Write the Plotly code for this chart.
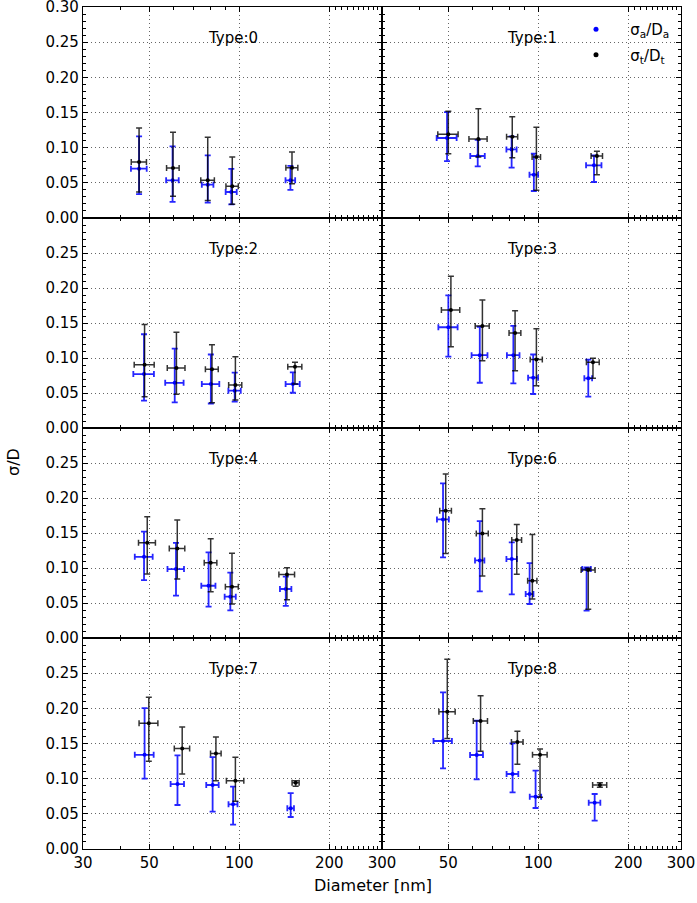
import plotly.graph_objects as go

W, H = 697, 903

TYPES = ["Type:0", "Type:1", "Type:2", "Type:3", "Type:4", "Type:6", "Type:7", "Type:8"]

# sigma_t / D_t (black)
BLACK_X = [
    [46.2, 60.0, 78.4, 94.7, 150.0],
    [50.0, 63.0, 81.8, 98.5, 157.0],
    [48.2, 61.6, 81.0, 97.0, 153.5],
    [51.0, 65.0, 83.6, 98.5, 152.3],
    [49.2, 62.0, 80.2, 94.5, 144.3],
    [49.0, 65.0, 84.7, 95.5, 146.9],
    [49.8, 64.4, 83.5, 97.0, 154.3],
    [49.6, 64.1, 85.1, 101.3, 160.6],
]
BLACK_XERR = [
    [2.7, 2.9, 4.1, 4.5, 6.9],
    [3.9, 4.4, 3.5, 3.2, 6.9],
    [3.7, 4.2, 4.0, 4.9, 8.3],
    [3.6, 3.5, 3.8, 4.6, 7.5],
    [3.2, 3.7, 3.9, 4.7, 8.7],
    [2.2, 3.0, 3.2, 3.4, 7.9],
    [3.6, 3.8, 3.4, 6.5, 4.2],
    [3.1, 3.5, 3.8, 5.7, 8.7],
]
BLACK_Y = [
    [0.0796, 0.071, 0.0536, 0.045, 0.0716],
    [0.119, 0.1123, 0.1157, 0.0867, 0.0882],
    [0.0905, 0.0858, 0.084, 0.0613, 0.0875],
    [0.1685, 0.1457, 0.1357, 0.098, 0.0938],
    [0.1361, 0.128, 0.1076, 0.0733, 0.0909],
    [0.1818, 0.1495, 0.1399, 0.0819, 0.0971],
    [0.179, 0.143, 0.136, 0.0972, 0.0943],
    [0.1953, 0.182, 0.1521, 0.1341, 0.091],
]
BLACK_YTOP = [
    [0.128, 0.122, 0.115, 0.0867, 0.0938],
    [0.1517, 0.1555, 0.144, 0.129, 0.0948],
    [0.148, 0.137, 0.119, 0.1017, 0.0938],
    [0.217, 0.183, 0.1675, 0.142, 0.0995],
    [0.1733, 0.1685, 0.142, 0.121, 0.1004],
    [0.2342, 0.1847, 0.1623, 0.148, 0.0995],
    [0.216, 0.1735, 0.1593, 0.1304, 0.0972],
    [0.270, 0.218, 0.1673, 0.1422, 0.0943],
]
BLACK_YBOT = [
    [0.037, 0.031, 0.025, 0.0194, 0.0488],
    [0.0915, 0.0867, 0.0858, 0.0393, 0.0616],
    [0.0445, 0.0484, 0.036, 0.040, 0.0628],
    [0.116, 0.096, 0.0819, 0.0605, 0.071],
    [0.0914, 0.0843, 0.066, 0.0486, 0.0547],
    [0.1209, 0.0885, 0.091, 0.0557, 0.041],
    [0.1247, 0.1067, 0.0972, 0.0678, 0.0891],
    [0.157, 0.1389, 0.1204, 0.0735, 0.0877],
]

# sigma_a / D_a (blue)
BLUE_X = [
    [46.2, 59.8, 78.4, 94.0, 148.2],
    [49.5, 62.7, 81.4, 96.6, 153.5],
    [48.0, 60.8, 80.3, 96.5, 151.0],
    [50.0, 63.7, 82.5, 96.1, 146.9],
    [48.0, 61.4, 78.9, 93.3, 143.0],
    [48.0, 63.7, 81.5, 93.5, 145.0],
    [48.2, 62.1, 81.4, 95.3, 148.5],
    [48.0, 62.2, 82.0, 97.9, 154.3],
]
BLUE_XERR = [
    [2.8, 2.9, 3.5, 4.0, 5.5],
    [3.8, 3.5, 3.2, 3.2, 9.1],
    [3.8, 4.3, 5.4, 4.6, 8.2],
    [3.7, 3.9, 4.0, 3.7, 4.4],
    [3.3, 3.9, 4.3, 4.0, 6.3],
    [2.2, 2.3, 3.3, 2.8, 4.8],
    [3.5, 3.2, 3.9, 3.3, 3.8],
    [3.4, 3.1, 3.7, 4.3, 6.9],
]
BLUE_Y = [
    [0.0702, 0.0536, 0.0474, 0.037, 0.0536],
    [0.1138, 0.0882, 0.0976, 0.0616, 0.0749],
    [0.077, 0.0645, 0.0627, 0.0533, 0.0628],
    [0.144, 0.104, 0.104, 0.0719, 0.071],
    [0.116, 0.0985, 0.0747, 0.059, 0.070],
    [0.1695, 0.1109, 0.1128, 0.0628, 0.0985],
    [0.134, 0.0924, 0.091, 0.0635, 0.0578],
    [0.1536, 0.1337, 0.1067, 0.0744, 0.0659],
]
BLUE_YTOP = [
    [0.116, 0.102, 0.089, 0.070, 0.074],
    [0.1507, 0.111, 0.116, 0.0915, 0.089],
    [0.134, 0.1134, 0.105, 0.079, 0.0795],
    [0.1894, 0.1447, 0.146, 0.105, 0.0976],
    [0.152, 0.136, 0.1223, 0.0933, 0.0876],
    [0.2209, 0.1671, 0.1366, 0.107, 0.1009],
    [0.2005, 0.1332, 0.1308, 0.0886, 0.0796],
    [0.2228, 0.1825, 0.1503, 0.1114, 0.0782],
]
BLUE_YBOT = [
    [0.034, 0.0228, 0.0218, 0.0194, 0.040],
    [0.081, 0.0735, 0.0716, 0.0384, 0.0512],
    [0.039, 0.0365, 0.035, 0.0376, 0.0504],
    [0.1019, 0.0647, 0.0638, 0.0486, 0.0447],
    [0.0828, 0.0605, 0.0447, 0.0395, 0.046],
    [0.1152, 0.0666, 0.0624, 0.0486, 0.039],
    [0.100, 0.0626, 0.0531, 0.0346, 0.0455],
    [0.1147, 0.0991, 0.0806, 0.0583, 0.0403],
]

X_TICKS = [30, 50, 100, 200, 300]
X_MINOR = [40, 60, 70, 80, 90, 210, 220, 230, 240, 250, 260, 270, 280, 290]
Y_TICKS = [0.0, 0.05, 0.10, 0.15, 0.20, 0.25, 0.30]

FONT = "DejaVu Sans"
BLUE = "rgba(0,0,255,0.85)"
BLACK = "rgba(0,0,0,0.8)"
GRID = "rgba(0,0,0,0.6)"

# panel pixel boxes (page pixels)
XPIX = [(83, 382), (382, 681)]
YPIX = [(7, 218), (218, 428), (428, 638), (638, 849)]

fig = go.Figure()
layout = {}
annotations = []


def err(y, top, bot):
    return [t - v for t, v in zip(top, y)], [v - b for v, b in zip(y, bot)]


for i, name in enumerate(TYPES):
    r, c = i // 2, i % 2
    n = i + 1
    xa = "x" if n == 1 else f"x{n}"
    ya = "y" if n == 1 else f"y{n}"
    xkey = "xaxis" if n == 1 else f"xaxis{n}"
    ykey = "yaxis" if n == 1 else f"yaxis{n}"

    bp, bm = err(BLUE_Y[i], BLUE_YTOP[i], BLUE_YBOT[i])
    fig.add_trace(go.Scatter(
        x=BLUE_X[i], y=BLUE_Y[i], mode="markers", xaxis=xa, yaxis=ya,
        marker=dict(color="#0000ff", size=4), showlegend=False,
        error_y=dict(type="data", symmetric=False, array=bp, arrayminus=bm,
                     color=BLUE, thickness=1.8, width=3),
        error_x=dict(type="data", array=BLUE_XERR[i], color=BLUE, thickness=1.8, width=3),
    ))
    kp, km = err(BLACK_Y[i], BLACK_YTOP[i], BLACK_YBOT[i])
    fig.add_trace(go.Scatter(
        x=BLACK_X[i], y=BLACK_Y[i], mode="markers", xaxis=xa, yaxis=ya,
        marker=dict(color="#000000", size=4), showlegend=False,
        error_y=dict(type="data", symmetric=False, array=kp, arrayminus=km,
                     color=BLACK, thickness=1.5, width=3),
        error_x=dict(type="data", array=BLACK_XERR[i], color=BLACK, thickness=1.5, width=3),
    ))

    x0, x1 = XPIX[c]
    y0, y1 = YPIX[r]
    bottom = r == 3
    xt = [str(v) for v in X_TICKS]
    if c == 1:
        xt[0] = ""
    layout[xkey] = dict(
        type="log", range=[1.4771212547, 2.4771212547],
        domain=[x0 / W, x1 / W], anchor=ya, automargin=False,
        tickmode="array", tickvals=X_TICKS, ticktext=xt, ticklabeloverflow="allow",
        showticklabels=bottom, ticks="inside", ticklen=5, tickwidth=1, tickcolor="black",
        minor=dict(tickmode="array", tickvals=X_MINOR, ticks="inside", ticklen=3,
                   tickcolor="black", showgrid=False),
        showline=True, linecolor="black", linewidth=1.2, mirror="allticks",
        showgrid=True, gridcolor=GRID, griddash="1px,3px", gridwidth=1,
        zeroline=False, tickfont=dict(family=FONT, size=15, color="black"),
    )
    yt = [f"{v:.2f}" for v in Y_TICKS]
    if r > 0:
        yt[-1] = ""
    layout[ykey] = dict(
        range=[0, 0.3001], domain=[1 - y1 / H, 1 - y0 / H], anchor=xa, automargin=False,
        tickmode="array", tickvals=Y_TICKS, ticktext=yt, ticklabeloverflow="allow",
        showticklabels=(c == 0), ticks="inside", ticklen=5, tickwidth=1, tickcolor="black",
        minor=dict(dtick=0.01, ticks="inside", ticklen=3, tickcolor="black", showgrid=False),
        showline=True, linecolor="black", linewidth=1.2, mirror="allticks",
        showgrid=True, gridcolor=GRID, griddash="1px,3px", gridwidth=1,
        zeroline=False, tickfont=dict(family=FONT, size=15, color="black"),
    )
    annotations.append(dict(
        text=name, xref="paper", yref="paper",
        x=(x0 + x1) / 2 / W, y=1 - (y0 + 31) / H,
        showarrow=False, xanchor="center", yanchor="middle",
        font=dict(family=FONT, size=15, color="black"),
    ))

# legend entries
NBSP = "\u00a0\u00a0\u00a0"
fig.add_trace(go.Scatter(x=[None], y=[None], mode="markers", xaxis="x2", yaxis="y2",
                         marker=dict(color="#0000ff", size=5), legendgroup="a",
                         name=NBSP + "σ<sub>a</sub>/D<sub>a</sub>"))
fig.add_trace(go.Scatter(x=[None], y=[None], mode="markers", xaxis="x2", yaxis="y2",
                         marker=dict(color="#000000", size=5), legendgroup="t",
                         name=NBSP + "σ<sub>t</sub>/D<sub>t</sub>"))

annotations.append(dict(text="Diameter [nm]", xref="paper", yref="paper",
                        x=373 / W, y=1 - 885 / H, showarrow=False,
                        xanchor="center", yanchor="middle",
                        font=dict(family=FONT, size=16, color="black")))
annotations.append(dict(text="σ/D", xref="paper", yref="paper",
                        x=13 / W, y=1 - 462 / H, showarrow=False, textangle=-90,
                        xanchor="center", yanchor="middle",
                        font=dict(family=FONT, size=16, color="black")))

fig.update_layout(
    width=W, height=H, margin=dict(l=0, r=0, t=0, b=0, autoexpand=False),
    paper_bgcolor="white", plot_bgcolor="white",
    showlegend=True,
    legend=dict(x=576 / W, y=1 - 13 / H, xanchor="left", yanchor="top",
                bgcolor="rgba(0,0,0,0)", borderwidth=0,
                font=dict(family=FONT, size=15, color="black"),
                itemwidth=30, tracegroupgap=3, traceorder="grouped"),
    annotations=annotations,
    **layout,
)

fig.write_html("out.html", config={"displayModeBar": False},
               post_script="document.body.style.margin='0px';")
